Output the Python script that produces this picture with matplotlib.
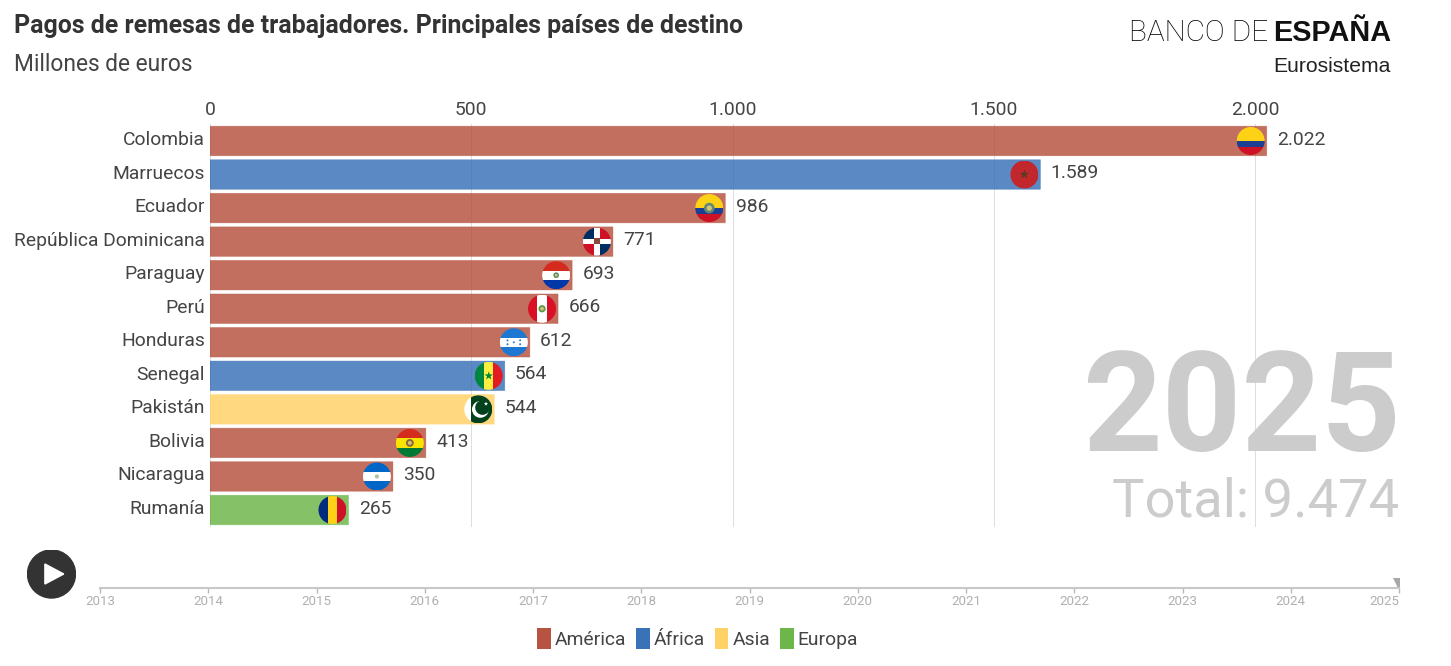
import matplotlib
matplotlib.use('Agg')
import matplotlib.pyplot as plt
import numpy as np
from matplotlib.colors import to_rgba
from matplotlib.patches import Rectangle, Circle, Polygon, Patch
from matplotlib.transforms import Affine2D, ScaledTranslation

plt.rcParams['font.family'] = ['Roboto', 'DejaVu Sans']

W, H = 1451, 666

paises = ['Colombia', 'Marruecos', 'Ecuador', 'República Dominicana', 'Paraguay', 'Perú',
          'Honduras', 'Senegal', 'Pakistán', 'Bolivia', 'Nicaragua', 'Rumanía']
valores = [2022, 1589, 986, 771, 693, 666, 612, 564, 544, 413, 350, 265]
continentes = ['América', 'África', 'América', 'América', 'América', 'América',
               'América', 'África', 'Asia', 'América', 'América', 'Europa']
ticks_x = [0, 500, 1000, 1500, 2000]
anios = list(range(2013, 2026))
leyenda = ['América', 'África', 'Asia', 'Europa']

colores = {'América': '#b75340', 'África': '#3a72b8', 'Asia': '#ffd166', 'Europa': '#6cb64a'}


def caja(x0, y0, x1, y1):
    # pixeles de la imagen (origen arriba) a fracciones de figura
    return [x0 / W, 1 - y1 / H, (x1 - x0) / W, (y1 - y0) / H]


def puntos(v):
    return f'{v:,}'.replace(',', '.')


fig = plt.figure(figsize=(W / 100, H / 100), dpi=100, facecolor='white')

# Titulo y logo
fig.text(14 / W, 1 - 26 / H, 'Pagos de remesas de trabajadores. Principales países de destino',
         fontsize=17.9, fontweight='bold', color='#333333', va='center')
fig.text(14 / W, 1 - 64.5 / H, 'Millones de euros', fontsize=16.4, color='#444444', va='center')
fig.text(1268 / W, 1 - 33 / H, 'BANCO DE', fontsize=21.4, fontweight='light', color='#000000',
         va='center', ha='right', family=['Roboto'])
fig.text(1391 / W, 1 - 33 / H, 'ESPAÑA', fontsize=20.8, fontweight='bold', color='#111111',
         va='center', ha='right', family=['Liberation Sans'])
fig.text(1391 / W, 1 - 66 / H, 'Eurosistema', fontsize=15.2, color='#222222', va='center', ha='right',
         family=['Liberation Sans'])

# Grafico principal
ax = fig.add_axes(caja(210, 124.2, 1400, 526.8))
escala = 0.5226  # pixeles por millon
ax.set_xlim(0, 1190 / escala)
ax.set_ylim(len(paises) - 0.5, -0.5)
ax.set_facecolor('none')
for s in ax.spines.values():
    s.set_visible(False)
ax.xaxis.tick_top()
ax.set_xticks(ticks_x)
ax.set_xticklabels([puntos(t) for t in ticks_x], fontsize=13.9, color='#444444')
ax.set_yticks(range(len(paises)))
ax.set_yticklabels(paises, fontsize=13.9, color='#444444')
ax.tick_params(axis='both', length=0)
ax.tick_params(axis='y', pad=3.5)
ax.tick_params(axis='x', pad=4)
ax.grid(axis='x', color='#dddddd', lw=0.7)
ax.set_axisbelow(True)
subir = ScaledTranslation(0, 3 / 100, fig.dpi_scale_trans)
for etiqueta in ax.get_yticklabels():
    etiqueta.set_transform(etiqueta.get_transform() + subir)

for i, (v, c) in enumerate(zip(valores, continentes)):
    ax.barh(i, v, height=0.88, facecolor=to_rgba(colores[c], 0.84), edgecolor=to_rgba(colores[c], 0.5),
            lw=0.5, zorder=2, snap=False)
    ax.annotate(puntos(v), (v, i), xytext=(7.4, 1), textcoords='offset points', fontsize=13.9,
                color='#444444', va='center', ha='left')


# Banderas: coordenadas locales de -1 a 1 dentro de un circulo
def bandera(v, fila):
    rx, ry = 14 / escala, 14 / 33.55
    t = Affine2D().scale(rx, -ry).translate(v - 16 / escala, fila) + ax.transData
    circulo = Circle((0, 0), 1, transform=t)

    def poner(p):
        p.set_transform(t)
        p.set_zorder(3)
        p.set_linewidth(0)
        ax.add_patch(p)
        p.set_clip_path(circulo)
    return poner


def horizontal(poner, bandas):
    # bandas: (color, desde, hasta), de arriba (1) hacia abajo (-1)
    for color, a, b in bandas:
        poner(Rectangle((-1, b), 2, a - b, color=color))


def vertical(poner, bandas):
    for color, a, b in bandas:
        poner(Rectangle((a, -1), b - a, 2, color=color))


def escudo(poner, color='#6f8a4a', r=0.2):
    poner(Circle((0, 0), r, color=color))
    poner(Circle((0, 0), r * 0.5, color='#d9c27a'))


def estrella(poner, x, y, r, color):
    ang = np.pi / 2 + np.arange(10) * np.pi / 5
    radios = np.where(np.arange(10) % 2 == 0, r, r * 0.4)
    poner(Polygon(np.column_stack([x + radios * np.cos(ang), y + radios * np.sin(ang)]), color=color))


for pais, v, i in zip(paises, valores, range(len(paises))):
    p = bandera(v, i)
    if pais == 'Colombia':
        horizontal(p, [('#fcd116', 1, 0), ('#1c3f94', 0, -0.45), ('#ce1126', -0.45, -1)])
    elif pais == 'Marruecos':
        horizontal(p, [('#c1272d', 1, -1)])
        estrella(p, 0, 0, 0.35, '#5a3a20')
    elif pais == 'Ecuador':
        horizontal(p, [('#fcd116', 1, 0), ('#1c3f94', 0, -0.45), ('#ce1126', -0.45, -1)])
        escudo(p, '#5f8a72', 0.38)
    elif pais == 'República Dominicana':
        p(Rectangle((-1, 0), 1, 1, color='#002d62'))
        p(Rectangle((0, 0), 1, 1, color='#ce1126'))
        p(Rectangle((-1, -1), 1, 1, color='#ce1126'))
        p(Rectangle((0, -1), 1, 1, color='#002d62'))
        p(Rectangle((-1, -0.2), 2, 0.4, color='#ffffff'))
        p(Rectangle((-0.2, -1), 0.4, 2, color='#ffffff'))
        p(Rectangle((-0.2, -0.15), 0.4, 0.4, color='#8a4a3a'))
    elif pais == 'Paraguay':
        horizontal(p, [('#d52b1e', 1, 0.33), ('#ffffff', 0.33, -0.33), ('#0038a8', -0.33, -1)])
        escudo(p, '#4f8a5a', 0.2)
    elif pais == 'Perú':
        vertical(p, [('#d91023', -1, -0.33), ('#ffffff', -0.33, 0.33), ('#d91023', 0.33, 1)])
        escudo(p, '#5a9a4a', 0.26)
    elif pais == 'Honduras':
        horizontal(p, [('#1e78d2', 1, 0.33), ('#ffffff', 0.33, -0.33), ('#1e78d2', -0.33, -1)])
        for dx, dy in [(-0.45, 0.14), (-0.45, -0.14), (0, 0), (0.45, 0.14), (0.45, -0.14)]:
            p(Circle((dx, dy), 0.07, color='#1e78d2'))
    elif pais == 'Senegal':
        vertical(p, [('#00853f', -1, -0.33), ('#fdef42', -0.33, 0.33), ('#e31b23', 0.33, 1)])
        estrella(p, 0, 0, 0.32, '#00853f')
    elif pais == 'Pakistán':
        vertical(p, [('#ffffff', -1, -0.55), ('#01411c', -0.55, 1)])
        p(Circle((0.15, 0), 0.6, color='#ffffff'))
        p(Circle((0.3, 0.13), 0.52, color='#01411c'))
        estrella(p, 0.55, 0.4, 0.16, '#ffffff')
    elif pais == 'Bolivia':
        horizontal(p, [('#d52b1e', 1, 0.33), ('#f9e300', 0.33, -0.33), ('#007934', -0.33, -1)])
        escudo(p, '#8a6a3a', 0.28)
    elif pais == 'Nicaragua':
        horizontal(p, [('#0067c6', 1, 0.33), ('#ffffff', 0.33, -0.33), ('#0067c6', -0.33, -1)])
        escudo(p, '#8ac0a0', 0.14)
    elif pais == 'Rumanía':
        vertical(p, [('#002b7f', -1, -0.33), ('#fcd116', -0.33, 0.33), ('#ce1126', 0.33, 1)])

# Anio y total
fig.text(1401 / W, 1 - 413 / H, '2025', fontsize=100, fontweight='bold', color='#cccccc',
         ha='right', va='center')
fig.text(1399 / W, 1 - 502 / H, 'Total: 9.474', fontsize=39.2, color='#cccccc', ha='right', va='center')

# Linea de tiempo
tl = fig.add_axes(caja(100, 560, 1399, 588))
tl.set_xlim(anios[0], anios[-1])
tl.set_ylim(0, 1)
tl.set_facecolor('none')
for k, s in tl.spines.items():
    s.set_visible(k == 'bottom')
tl.spines['bottom'].set_color('#c8c8c8')
tl.spines['bottom'].set_linewidth(1.5)
tl.set_yticks([])
tl.set_xticks(anios)
tl.set_xticklabels(anios, fontsize=9.6, color='#b0b0b0')
tl.get_xticklabels()[-1].set_ha('right')
tl.tick_params(axis='x', length=3.5, width=1, color='#b8b8b8', pad=1.5)
tl.plot([anios[-1]], [0.16], marker='v', ms=9, color='#a8a8a8', mew=0)

# Boton de play
pl = fig.add_axes(caja(27, 549.5, 76, 598.5))
pl.set_xlim(-1, 1)
pl.set_ylim(-1, 1)
pl.axis('off')
pl.add_patch(Circle((0, 0), 0.98, color='#333333'))
pl.add_patch(Polygon([[-0.27, 0.41], [0.5, 0], [-0.27, -0.41]], color='#ffffff'))

# Leyenda
handles = [Patch(facecolor=colores[c], label=c) for c in leyenda]
fig.legend(handles=handles, loc='center', bbox_to_anchor=(697.5 / W, 1 - 638.5 / H), ncol=4, frameon=False,
           fontsize=13.9, labelcolor='#444444', handlelength=0.72, handleheight=1.3, handletextpad=0.2,
           columnspacing=0.5, borderpad=0)

fig.savefig('out.png', dpi=100)
